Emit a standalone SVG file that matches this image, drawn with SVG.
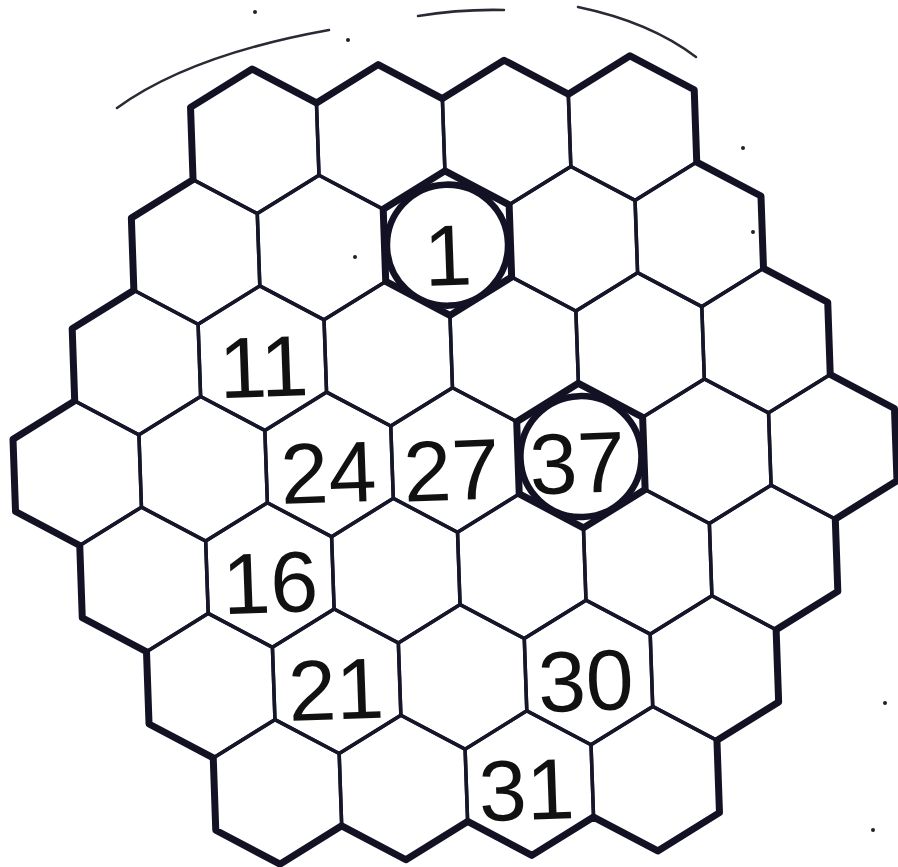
<svg xmlns="http://www.w3.org/2000/svg" xmlns:xlink="http://www.w3.org/1999/xlink" width="898" height="867" viewBox="0 0 898 867">
<style>
.cell{fill:none;stroke:#16162a;stroke-width:3.5;stroke-linejoin:round}
.thick{fill:none;stroke:#121224;stroke-width:7;stroke-linejoin:round}
.ring{fill:#fff;stroke:#121224;stroke-width:6.5}
.num{font-family:"Liberation Sans",Arial,sans-serif;font-size:86px;fill:#111;text-anchor:middle}
.mark{fill:none;stroke:#2a2a35;stroke-linecap:round}
.dot{fill:#222}
</style>
<defs>
<polygon id="hex" points="0,-72.3 63,-36.15 63,36.15 0,72.3 -63,36.15 -63,-36.15"/>
</defs>
<rect width="898" height="867" fill="#fff"/>
<g id="marks">
<path class="mark" d="M117,108 Q190,55 329,30" stroke-width="2.5"/>
<path class="mark" d="M418,16 Q460,9 504,10" stroke-width="2.5"/>
<path class="mark" d="M578,7 Q650,22 696,57" stroke-width="2.5"/>
<circle class="dot" cx="255" cy="12" r="2"/>
<circle class="dot" cx="348" cy="40" r="2"/>
<circle class="dot" cx="743" cy="148" r="2"/>
<circle class="dot" cx="753" cy="232" r="2"/>
<circle class="dot" cx="355" cy="257" r="2"/>
<circle class="dot" cx="885" cy="703" r="2"/>
<circle class="dot" cx="873" cy="830" r="2"/>
</g>
<g transform="translate(455,460) rotate(-2)">
<g id="cells">
<g id="r0c0"><use xlink:href="#hex" class="cell" x="-189" y="-325.5"/></g>
<g id="r0c1"><use xlink:href="#hex" class="cell" x="-63" y="-325.5"/></g>
<g id="r0c2"><use xlink:href="#hex" class="cell" x="63" y="-325.5"/></g>
<g id="r0c3"><use xlink:href="#hex" class="cell" x="189" y="-325.5"/></g>
<g id="r1c0"><use xlink:href="#hex" class="cell" x="-252" y="-217"/></g>
<g id="r1c1"><use xlink:href="#hex" class="cell" x="-126" y="-217"/></g>
<g id="r1c3"><use xlink:href="#hex" class="cell" x="126" y="-217"/></g>
<g id="r1c4"><use xlink:href="#hex" class="cell" x="252" y="-217"/></g>
<g id="r2c0"><use xlink:href="#hex" class="cell" x="-315" y="-108.5"/></g>
<g id="r2c1"><use xlink:href="#hex" class="cell" x="-189" y="-108.5"/><text class="num" x="-188" y="-70">11</text></g>
<g id="r2c2"><use xlink:href="#hex" class="cell" x="-63" y="-108.5"/></g>
<g id="r2c3"><use xlink:href="#hex" class="cell" x="63" y="-108.5"/></g>
<g id="r2c4"><use xlink:href="#hex" class="cell" x="189" y="-108.5"/></g>
<g id="r2c5"><use xlink:href="#hex" class="cell" x="315" y="-108.5"/></g>
<g id="r3c0"><use xlink:href="#hex" class="cell" x="-378" y="0"/></g>
<g id="r3c1"><use xlink:href="#hex" class="cell" x="-252" y="0"/></g>
<g id="r3c2"><use xlink:href="#hex" class="cell" x="-126" y="0"/><text class="num" x="-127" y="38">24</text></g>
<g id="r3c3"><use xlink:href="#hex" class="cell" x="0" y="0"/><text class="num" x="-4" y="40">27</text></g>
<g id="r3c5"><use xlink:href="#hex" class="cell" x="252" y="0"/></g>
<g id="r3c6"><use xlink:href="#hex" class="cell" x="378" y="0"/></g>
<g id="r4c0"><use xlink:href="#hex" class="cell" x="-315" y="108.5"/></g>
<g id="r4c1"><use xlink:href="#hex" class="cell" x="-189" y="108.5"/><text class="num" x="-189" y="146">16</text></g>
<g id="r4c2"><use xlink:href="#hex" class="cell" x="-63" y="108.5"/></g>
<g id="r4c3"><use xlink:href="#hex" class="cell" x="63" y="108.5"/></g>
<g id="r4c4"><use xlink:href="#hex" class="cell" x="189" y="108.5"/></g>
<g id="r4c5"><use xlink:href="#hex" class="cell" x="315" y="108.5"/></g>
<g id="r5c0"><use xlink:href="#hex" class="cell" x="-252" y="217"/></g>
<g id="r5c1"><use xlink:href="#hex" class="cell" x="-126" y="217"/><text class="num" x="-127" y="255">21</text></g>
<g id="r5c2"><use xlink:href="#hex" class="cell" x="0" y="217"/></g>
<g id="r5c3"><use xlink:href="#hex" class="cell" x="126" y="217"/><text class="num" x="123" y="255">30</text></g>
<g id="r5c4"><use xlink:href="#hex" class="cell" x="252" y="217"/></g>
<g id="r6c0"><use xlink:href="#hex" class="cell" x="-189" y="325.5"/></g>
<g id="r6c1"><use xlink:href="#hex" class="cell" x="-63" y="325.5"/></g>
<g id="r6c2"><use xlink:href="#hex" class="cell" x="63" y="325.5"/><text class="num" x="60" y="362">31</text></g>
<g id="r6c3"><use xlink:href="#hex" class="cell" x="189" y="325.5"/></g>
</g>
<g id="outline">
<path class="thick" d="M-252,-361.65 L-189,-397.8 L-126,-361.65 L-63,-397.8 L0,-361.65 L63,-397.8 L126,-361.65 L189,-397.8 L252,-361.65 L252,-289.35 L315,-253.15 L315,-180.85 L378,-144.65 L378,-72.35 L441,-36.15 L441,36.15 L378,72.35 L378,144.65 L315,180.85 L315,253.15 L252,289.35 L252,361.65 L189,397.8 L126,361.65 L63,397.8 L0,361.65 L-63,397.8 L-126,361.65 L-189,397.8 L-252,361.65 L-252,289.35 L-315,253.15 L-315,180.85 L-378,144.65 L-378,72.35 L-441,36.15 L-441,-36.15 L-378,-72.35 L-378,-144.65 L-315,-180.85 L-315,-253.15 L-252,-289.35 Z"/>
</g>
<g id="r1c2"><use xlink:href="#hex" class="thick" x="0" y="-217"/><circle class="ring" cx="0" cy="-215" r="60.5"/><text class="num" x="0" y="-175">1</text></g>
<g id="r3c4"><use xlink:href="#hex" class="thick" x="126" y="0"/><circle class="ring" cx="126" cy="1" r="60.5"/><text class="num" x="122" y="37">37</text></g>
</g>
</svg>
